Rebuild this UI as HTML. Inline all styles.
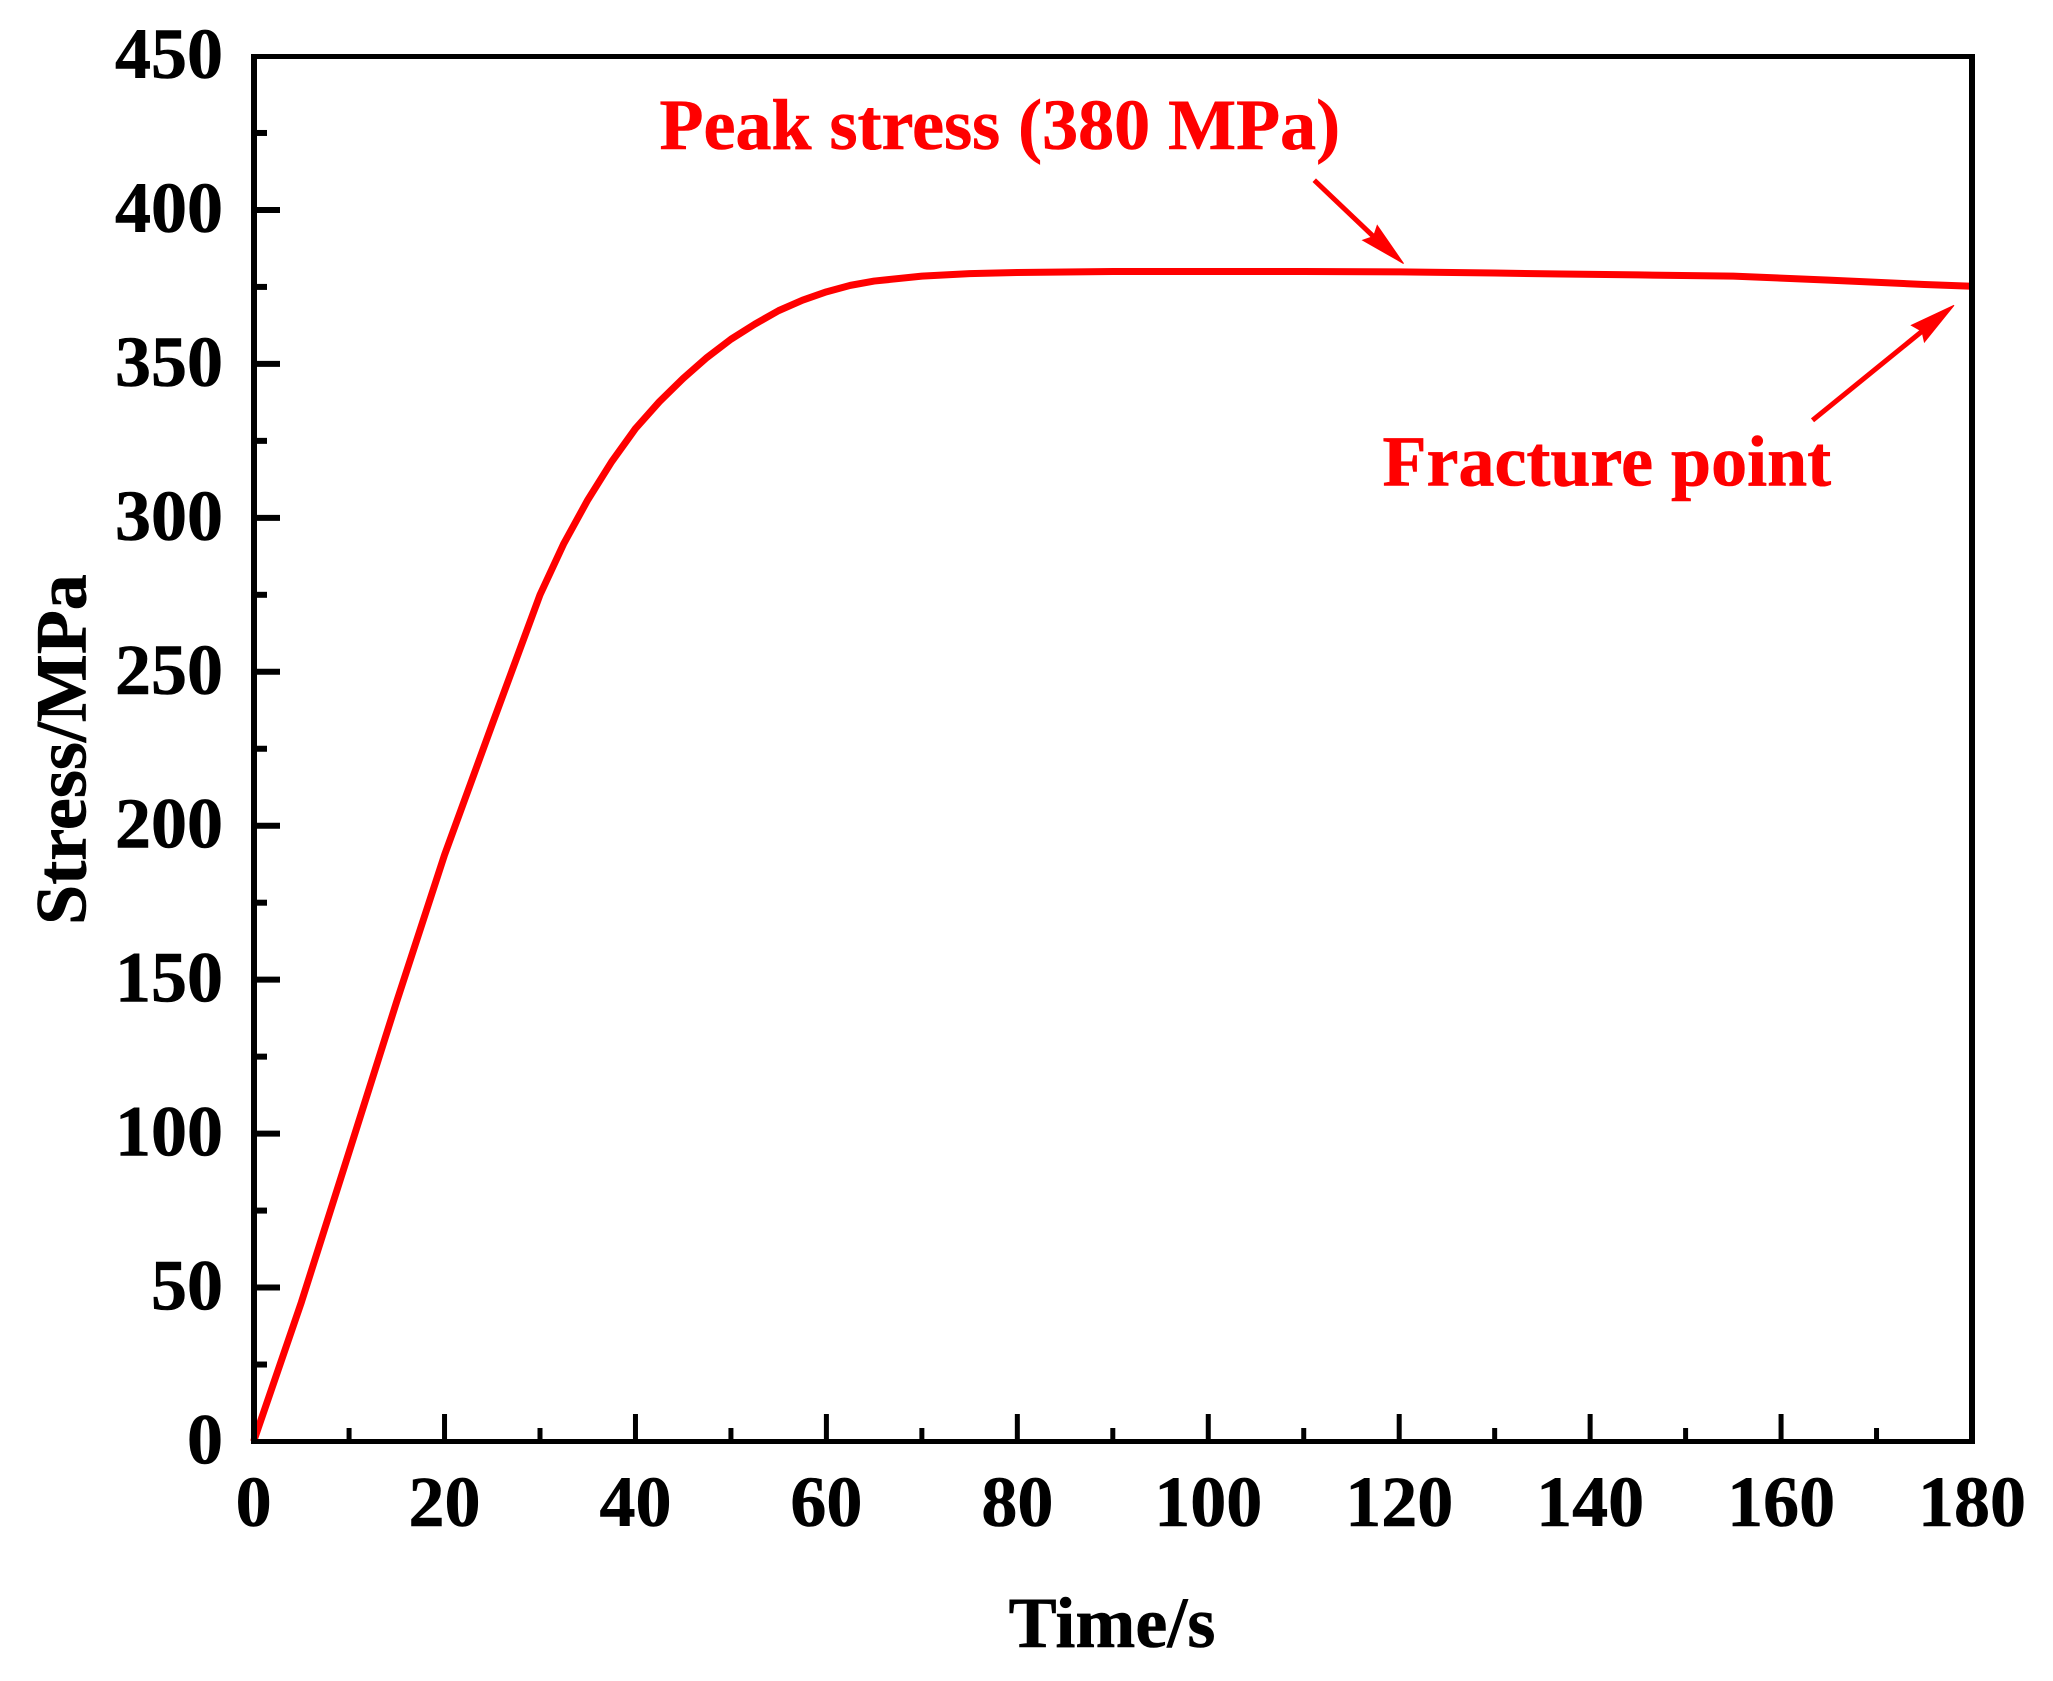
<!DOCTYPE html>
<html lang="en">
<head>
<meta charset="utf-8">
<title>Stress vs Time</title>
<style>
html,body{margin:0;padding:0;background:#fff;}
svg{display:block;}
text{font-family:"Liberation Serif","DejaVu Serif",serif;font-weight:bold;font-size:72px;stroke-width:0.6px;}
</style>
</head>
<body>
<svg id="chart" xmlns="http://www.w3.org/2000/svg" width="2053" height="1681" viewBox="0 0 2053 1681"></svg>
<script>
const times = [0,5,10,15,20,25,30,32.5,35,37.5,40,42.5,45,47.5,50,52.5,55,57.5,60,62.5,65,70,75,80,90,100,110,120,130,137,145,155,165,175,180];
const stress = [0,45.2,94,143,190.5,233,275,291.7,305.8,318.2,329,337.7,345.3,352.1,358,362.9,367.3,370.7,373.4,375.5,376.9,378.5,379.3,379.7,380,380,380,379.9,379.5,379.2,378.9,378.5,377.2,375.8,375.2];
const xTickLabels = [0,20,40,60,80,100,120,140,160,180];
const xMinorTicks = [10,30,50,70,90,110,130,150,170];
const yTickLabels = [0,50,100,150,200,250,300,350,400,450];
const yMinorTicks = [25,75,125,175,225,275,325,375,425];
const xTitle = 'Time/s';
const yTitle = 'Stress/MPa';
const peakLabel = 'Peak stress (380 MPa)';
const fractureLabel = 'Fracture point';
const peakPoint = [120.35, 380];
const fracturePoint = [180, 375.2];

const svgNS = 'http://www.w3.org/2000/svg';
const svg = document.getElementById('chart');
const plot = {left:253.6, right:1972, top:56, bottom:1441.5};
const xMax = 180, yMax = 450;
function xScale(v){ return plot.left + v / xMax * (plot.right - plot.left); }
function yScale(v){ return plot.bottom - v / yMax * (plot.bottom - plot.top); }
function make(tag, attrs, parent){
  const el = document.createElementNS(svgNS, tag);
  for (const k in attrs) el.setAttribute(k, attrs[k]);
  (parent || svg).appendChild(el);
  return el;
}

// background
const bg = make('rect', {x:0, y:0, width:2053, height:1681, fill:'#fff'});



// stress curve
const curve = make('polyline', {
  points: times.map((t,i) => xScale(t).toFixed(2) + ',' + yScale(stress[i]).toFixed(2)).join(' '),
  fill:'none', stroke:'#ff0000', 'stroke-width':7, 'stroke-linejoin':'round'
});



// plot frame
const frameLeft = make('rect', {x:251, y:54, width:6, height:1390, fill:'#000'});


const frameRight = make('rect', {x:1969, y:54, width:6, height:1390, fill:'#000'});


const frameTop = make('rect', {x:251, y:54, width:1724, height:5, fill:'#000'});


const frameBottom = make('rect', {x:251, y:1439, width:1724, height:5, fill:'#000'});



// x ticks and labels
xTickLabels.forEach(v => {
  const x = xScale(v);
  if (v > 0 && v < xMax) {
    const tick = make('line', {x1:x, x2:x, y1:1440, y2:1414, stroke:'#000', 'stroke-width':5});
    
    
  }
  const label = make('text', {x:x, y:1526, 'text-anchor':'middle', fill:'#000', stroke:'#000'});
  label.textContent = v;
  
  
});
xMinorTicks.forEach(v => {
  const x = xScale(v);
  const tick = make('line', {x1:x, x2:x, y1:1440, y2:1428, stroke:'#000', 'stroke-width':5});
  
  
});

// y ticks and labels
yTickLabels.forEach(v => {
  const y = yScale(v);
  if (v > 0 && v < yMax) {
    const tick = make('line', {x1:256, x2:280, y1:y, y2:y, stroke:'#000', 'stroke-width':6});
    
    
  }
  const label = make('text', {x:223, y:y + 22, 'text-anchor':'end', fill:'#000', stroke:'#000'});
  label.textContent = v;
  
  
});
yMinorTicks.forEach(v => {
  const y = yScale(v);
  const tick = make('line', {x1:256, x2:267, y1:y, y2:y, stroke:'#000', 'stroke-width':6});
  
  
});

// axis titles
const xTitleEl = make('text', {x:1112, y:1647, 'text-anchor':'middle', fill:'#000', stroke:'#000'});
xTitleEl.textContent = xTitle;


const yTitleEl = make('text', {x:0, y:0, 'text-anchor':'middle', fill:'#000', stroke:'#000', transform:'translate(85.5 749.5) rotate(-90)'});
yTitleEl.textContent = yTitle;



// annotations, positioned relative to the data points they mark
const px = xScale(peakPoint[0]), py = yScale(peakPoint[1]);
const fx = xScale(fracturePoint[0]), fy = yScale(fracturePoint[1]);

const peakText = make('text', {x:px - 743, y:py - 122.5, fill:'#ff0000', stroke:'#ff0000'});
peakText.textContent = peakLabel;



const fractureText = make('text', {x:fx - 589.5, y:fy + 199, fill:'#ff0000', stroke:'#ff0000'});
fractureText.textContent = fractureLabel;



function poly(pts){ return pts.map(p => p[0] + ',' + p[1]).join(' '); }

const peakTip = [px + 1, py - 8];
const peakShaft = make('line', {x1:peakTip[0] - 89.3, y1:peakTip[1] - 83.3, x2:peakTip[0] - 30, y2:peakTip[1] - 27, stroke:'#ff0000', 'stroke-width':5});


const peakHead = make('polygon', {fill:'#ff0000', stroke:'#ff0000', 'stroke-width':1, points:poly([
  peakTip,
  [peakTip[0] - 26.3, peakTip[1] - 38],
  [peakTip[0] - 30, peakTip[1] - 27],
  [peakTip[0] - 40.8, peakTip[1] - 23.3]
])});



const fractureTip = [fx - 18, fy + 19];
const fractureShaft = make('line', {x1:fractureTip[0] - 141.5, y1:fractureTip[1] + 115, x2:fractureTip[0] - 32, y2:fractureTip[1] + 26, stroke:'#ff0000', 'stroke-width':5});


const fractureHead = make('polygon', {fill:'#ff0000', stroke:'#ff0000', 'stroke-width':1, points:poly([
  fractureTip,
  [fractureTip[0] - 42.6, fractureTip[1] + 20],
  [fractureTip[0] - 32, fractureTip[1] + 26],
  [fractureTip[0] - 29.6, fractureTip[1] + 36.7]
])});


</script>
</body>
</html>
